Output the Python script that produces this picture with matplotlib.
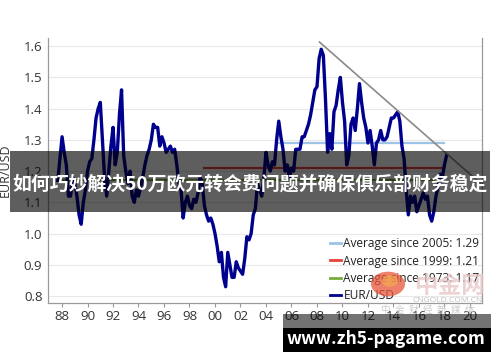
import numpy as np
import matplotlib
matplotlib.use("Agg")
import matplotlib.pyplot as plt
from matplotlib.patches import Rectangle, Circle

plt.rcParams['font.family'] = ['Open Sans', 'Noto Sans CJK SC', 'DejaVu Sans']

# ---------------- data ----------------
start_year = 1987.67          # first observation (bi-monthly steps)
step = 1.0 / 6.0
eurusd = [
    1.17, 1.24,
    1.31, 1.26, 1.22, 1.12, 1.12, 1.18,   # 1988
    1.16, 1.12, 1.06, 1.03, 1.10, 1.14,   # 1989
    1.20, 1.23, 1.24, 1.30, 1.37, 1.40,   # 1990
    1.42, 1.30, 1.18, 1.12, 1.20, 1.28,   # 1991
    1.34, 1.22, 1.26, 1.38, 1.46, 1.25,   # 1992
    1.20, 1.16, 1.20, 1.12, 1.10, 1.14,   # 1993
    1.12, 1.15, 1.18, 1.22, 1.25, 1.27,   # 1994
    1.30, 1.35, 1.34, 1.34, 1.28, 1.31,   # 1995
    1.29, 1.26, 1.27, 1.28, 1.26, 1.27,   # 1996
    1.22, 1.16, 1.14, 1.05, 1.10, 1.12,   # 1997
    1.09, 1.08, 1.11, 1.10, 1.13, 1.18,   # 1998
    1.16, 1.09, 1.06, 1.04, 1.05, 1.03,   # 1999
    1.00, 0.96, 0.91, 0.94, 0.86, 0.83,   # 2000
    0.94, 0.90, 0.86, 0.86, 0.91, 0.89,   # 2001
    0.88, 0.87, 0.92, 0.99, 0.98, 1.00,   # 2002
    1.06, 1.08, 1.16, 1.14, 1.12, 1.18,   # 2003
    1.26, 1.22, 1.20, 1.23, 1.22, 1.30,   # 2004
    1.36, 1.31, 1.27, 1.20, 1.22, 1.18,   # 2005
    1.21, 1.20, 1.27, 1.27, 1.27, 1.31,   # 2006
    1.31, 1.33, 1.35, 1.38, 1.42, 1.46,   # 2007
    1.47, 1.56, 1.59, 1.57, 1.43, 1.26,   # 2008
    1.32, 1.27, 1.39, 1.41, 1.46, 1.50,   # 2009
    1.42, 1.36, 1.22, 1.25, 1.35, 1.37,   # 2010
    1.33, 1.40, 1.48, 1.42, 1.37, 1.34,   # 2011
    1.29, 1.33, 1.28, 1.22, 1.29, 1.30,   # 2012
    1.33, 1.30, 1.30, 1.31, 1.34, 1.37,   # 2013
    1.37, 1.38, 1.39, 1.36, 1.28, 1.24,   # 2014
    1.14, 1.06, 1.12, 1.10, 1.12, 1.07,   # 2015
    1.09, 1.11, 1.13, 1.11, 1.12, 1.06,   # 2016
    1.04, 1.07, 1.12, 1.15, 1.19, 1.18,   # 2017
    1.22, 1.25,                           # 2018
]
avg_2005 = 1.29
avg_1999 = 1.21
avg_1973 = 1.17
avg_2005_span = (2005.0, 2018.0)
avg_1999_span = (1999.1, 2018.0)
avg_1973_span = (1987.7, 2018.0)
trend_start = (2008.2, 1.613)
trend_end = (2020.8, 1.162)

tick_years = list(range(1988, 2021, 2))
tick_labels = [f"{y % 100:02d}" for y in tick_years]
ytick_vals = [0.8, 0.9, 1.0, 1.1, 1.2, 1.3, 1.4, 1.5, 1.6]

legend_labels = ["Average since 2005: 1.29", "Average since 1999: 1.21",
                 "Average since 1973: 1.17", "EUR/USD"]
banner_text = "如何巧妙解决50万欧元转会费问题并确保俱乐部财务稳定"
url_text = "www.zh5-pagame.com"

# ---------------- figure ----------------
W, H = 500, 362
fig = plt.figure(figsize=(W / 100, H / 100), dpi=100)
fig.patch.set_facecolor("white")

def fx(px):
    return px / W

def fy(py):
    return 1 - py / H

ax = fig.add_axes([fx(48), fy(303), fx(482) - fx(48), fy(38) - fy(303)])
ax.set_xlim(1986.9, 2020.95)
ax.set_ylim(0.778, 1.626)

years = start_year + step * np.arange(len(eurusd))

c_blue = "#9dc3e6"
c_red = "#e5443c"
c_green = "#7aab3c"
c_navy = "#00008f"

ax.plot(list(avg_1973_span), [avg_1973, avg_1973], color=c_green, lw=1.6, zorder=2,
        label=legend_labels[2])
ax.plot(list(avg_1999_span), [avg_1999, avg_1999], color=c_red, lw=1.6, zorder=2,
        label=legend_labels[1])
ax.plot(list(avg_2005_span), [avg_2005, avg_2005], color=c_blue, lw=1.6, zorder=2,
        label=legend_labels[0])
ax.plot(years, eurusd, color=c_navy, lw=2.4, zorder=3, label=legend_labels[3],
        solid_joinstyle="round")
ax.plot([trend_start[0], trend_end[0]], [trend_start[1], trend_end[1]],
        color="#8a8a8a", lw=1.2, zorder=4)

ax.set_yticks(ytick_vals)
ax.set_yticklabels([f"{v:.1f}" for v in ytick_vals])
ax.set_xticks(tick_years)
ax.set_xticklabels(tick_labels)
ax.tick_params(axis="y", length=0, pad=4, labelsize=9.5, labelcolor="#333333")
ax.tick_params(axis="x", length=3, width=0.8, color="#999999", pad=2,
               labelsize=9.5, labelcolor="#333333")
ax.yaxis.grid(True, color="#e8e8e8", lw=0.8)
ax.set_axisbelow(True)
for s in ["left", "bottom", "right"]:
    ax.spines[s].set_color("#9a9a9a")
    ax.spines[s].set_linewidth(0.9)
ax.spines["top"].set_visible(False)

ax.set_ylabel("EUR/USD", fontsize=9, color="#333333")
ax.yaxis.set_label_coords(-0.083, 0.5)

handles, labels = ax.get_legend_handles_labels()
order = [legend_labels.index(l) for l in labels]
hl = sorted(zip(order, handles, labels))
leg = ax.legend([h for _, h, _ in hl], [l for _, _, l in hl],
                loc="lower right", bbox_to_anchor=(1.0, -0.005), frameon=False,
                fontsize=8.6, handlelength=0.85, handletextpad=0.25,
                labelspacing=0.35, borderpad=0.2, borderaxespad=0.0)
for t in leg.get_texts():
    t.set_color("#222222")
for l in leg.get_lines():
    l.set_linewidth(2.0)

# ---------------- watermark ----------------
fig.add_artist(Circle((fx(388), fy(284)), radius=17 / W, transform=fig.transFigure,
                      facecolor="#e8553a", alpha=0.75, edgecolor="none", zorder=5))
fig.add_artist(Circle((fx(390), fy(281)), radius=8 / W, transform=fig.transFigure,
                      facecolor="#f6b24a", alpha=0.6, edgecolor="none", zorder=5))
fig.text(fx(450), fy(286), "中金网", fontsize=17, fontweight="bold",
         color="#e6c4c4", alpha=0.75, ha="center", va="center",
         family=["Noto Sans CJK SC"], zorder=5)
fig.text(fx(448), fy(301), "CNGOLD.COM.CN", fontsize=6, color="#c0c0c0",
         ha="center", va="center", zorder=5)
fig.text(fx(428), fy(310), "中  金  财  经  新  媒  体", fontsize=7, color="#cccccc",
         ha="center", va="center", family=["Noto Sans CJK SC"], zorder=5)

# ---------------- banners ----------------
fig.add_artist(Rectangle((fx(10), fy(212)), fx(490) - fx(10), fy(151) - fy(212),
                         transform=fig.transFigure, facecolor="black", alpha=0.63,
                         edgecolor="none", zorder=6))
fig.text(fx(250), fy(184), banner_text, fontsize=13.6, fontweight="bold",
         color="white", ha="center", va="center",
         family=["Noto Sans CJK SC", "DejaVu Sans"], zorder=7)

fig.add_artist(Rectangle((fx(283), fy(328)), fx(491) - fx(283), fy(314) - fy(328),
                         transform=fig.transFigure, facecolor="black", alpha=0.55,
                         edgecolor="none", zorder=6))
fig.add_artist(Rectangle((fx(283), fy(352)), fx(491) - fx(283), fy(328) - fy(352),
                         transform=fig.transFigure, facecolor="black",
                         edgecolor="none", zorder=6))
fig.text(fx(386), fy(339), url_text, fontsize=12.5, fontweight="bold",
         color="white", ha="center", va="center",
         family=["Noto Sans CJK SC", "DejaVu Sans"], zorder=7)

fig.savefig("out.png", dpi=100, facecolor="white")
